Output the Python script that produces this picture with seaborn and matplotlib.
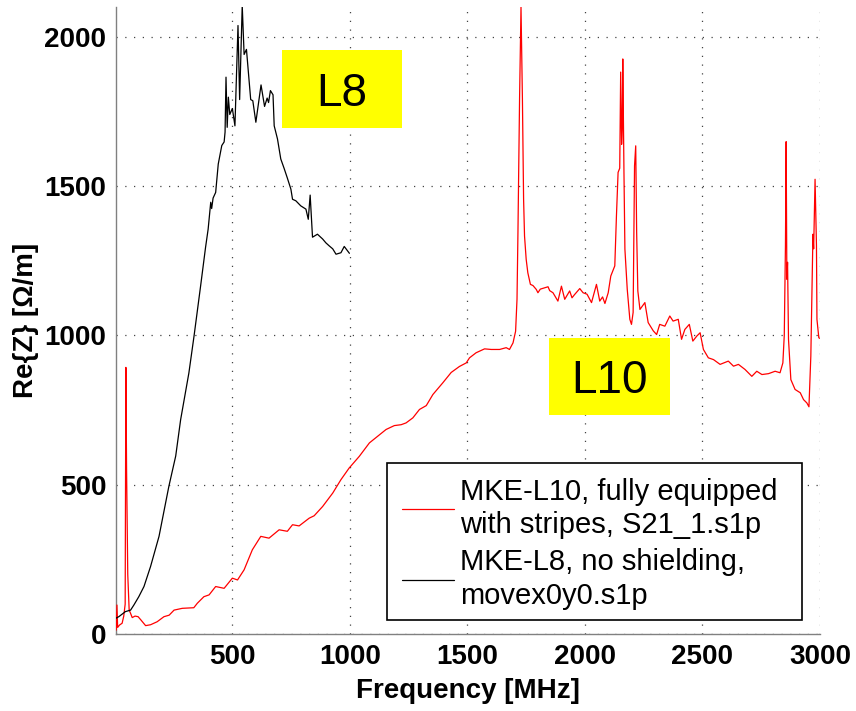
import numpy as np
import pandas as pd
import seaborn as sns
import matplotlib
matplotlib.use("Agg")
import matplotlib.pyplot as plt
from matplotlib.patches import Rectangle
from matplotlib.ticker import MultipleLocator

# MKE-L8, no shielding (movex0y0.s1p)
l8_freq = [5, 17, 45, 67, 81, 102, 124, 152, 188, 230, 259, 280, 315, 337, 365,
           386, 397, 408, 412, 418, 429, 440, 455, 465, 469, 473, 478, 483, 489,
           500, 511, 524, 531, 542, 550, 560, 578, 587, 600, 622, 637, 648, 654,
           662, 673, 678, 692, 706, 720, 734, 749, 756, 770, 791, 813, 823, 831,
           841, 862, 884, 898, 912, 927, 941, 962, 976, 998]
l8_re = [53, 58, 75, 80, 97, 125, 159, 226, 327, 495, 596, 718, 874, 998, 1166,
         1295, 1356, 1446, 1425, 1460, 1479, 1574, 1636, 1648, 1681, 1865, 1697,
         1798, 1740, 1760, 1702, 2038, 1790, 2105, 1941, 1958, 1790, 1786, 1714,
         1839, 1767, 1795, 1780, 1820, 1806, 1702, 1658, 1591, 1560, 1527, 1490,
         1456, 1451, 1434, 1423, 1389, 1470, 1329, 1339, 1323, 1310, 1300, 1290,
         1272, 1277, 1298, 1275]

# MKE-L10, fully equipped with stripes (S21_1.s1p)
l10_freq = [6, 9, 12, 20, 31, 38, 44, 47, 50, 55, 61, 67, 74, 86, 99, 111, 131,
            152, 180, 209, 231, 252, 287, 336, 351, 379, 401, 429, 465, 500, 522,
            550, 585, 621, 656, 699, 734, 756, 784, 827, 848, 884, 927, 962, 997,
            1040, 1083, 1118, 1154, 1189, 1218, 1239, 1268, 1296, 1325, 1353,
            1395, 1431, 1466, 1495, 1509, 1537, 1573, 1601, 1637, 1665, 1679,
            1694, 1705, 1711, 1715, 1722, 1728, 1734, 1739, 1743, 1750, 1757,
            1768, 1779, 1793, 1800, 1810, 1843, 1850, 1864, 1885, 1900, 1914,
            1935, 1945, 1955, 1978, 1992, 2009, 2028, 2049, 2063, 2075, 2085,
            2099, 2110, 2127, 2134, 2141, 2148, 2152, 2156, 2159, 2161, 2166,
            2170, 2180, 2191, 2198, 2205, 2211, 2216, 2220, 2225, 2234, 2255,
            2269, 2291, 2305, 2318, 2340, 2361, 2375, 2397, 2411, 2425, 2444,
            2459, 2476, 2490, 2504, 2525, 2547, 2575, 2610, 2632, 2653, 2681,
            2710, 2731, 2753, 2781, 2809, 2830, 2842, 2848, 2853, 2856, 2859,
            2862, 2866, 2876, 2894, 2916, 2930, 2944, 2953, 2961, 2970, 2973,
            2979, 2985, 2987, 2995, 3000]
l10_re = [13, 97, 22, 30, 36, 60, 100, 893, 550, 200, 80, 69, 55, 60, 58, 47, 28,
          31, 41, 58, 63, 80, 86, 88, 103, 125, 131, 159, 153, 187, 181,
          215, 282, 327, 321, 349, 344, 366, 362, 388, 396, 427, 472, 517, 556,
          595, 640, 662, 685, 698, 701, 707, 724, 752, 765, 802,
          841, 876, 896, 908, 925, 942, 955, 953, 953, 959, 953,
          975, 1014, 1121, 1345, 1800, 2100, 1792, 1456, 1333, 1255, 1210,
          1171, 1167, 1154, 1143, 1155, 1163, 1150, 1143, 1115, 1165, 1121,
          1149, 1126, 1136, 1157, 1143, 1138, 1110, 1171, 1115, 1129, 1107,
          1143, 1199, 1233, 1400, 1546, 1560, 1882, 1640, 1700, 1926, 1546,
          1289, 1154, 1054, 1037, 1077, 1568, 1635, 1345, 1149, 1087, 1110,
          1043, 1015, 1003, 1037, 1031, 1065, 1048, 1054, 987, 1020, 1037,
          981, 998, 1009, 953, 925, 919, 903, 914, 897, 903, 886,
          863, 880, 869, 872, 880, 875, 908, 1000, 1300, 1649, 1188,
          1245, 987, 852, 819, 808, 785, 774, 761, 931, 1339, 1290,
          1523, 1300, 1054, 992, 990]

label_l10 = "MKE-L10, fully equipped\nwith stripes, S21_1.s1p"
label_l8 = "MKE-L8, no shielding,\nmovex0y0.s1p"
x_ticks = [500, 1000, 1500, 2000, 2500, 3000]
y_ticks = [0, 500, 1000, 1500, 2000]

sns.set_style("white")
plt.rcParams["font.family"] = ["Liberation Sans", "DejaVu Sans"]
plt.rcParams["text.color"] = "black"
plt.rcParams["axes.labelcolor"] = "black"
plt.rcParams["xtick.labelcolor"] = "black"
plt.rcParams["ytick.labelcolor"] = "black"

fig = plt.figure(figsize=(8.56, 7.11), dpi=100)
ax = fig.add_axes([116 / 856, 77 / 711, 704 / 856, 627 / 711])

df10 = pd.DataFrame({"f": l10_freq, "re": l10_re})
df8 = pd.DataFrame({"f": l8_freq, "re": l8_re})
sns.lineplot(data=df10, x="f", y="re", ax=ax, color="#ff0000", lw=0.9,
             estimator=None, sort=False, label=label_l10, zorder=3)
sns.lineplot(data=df8, x="f", y="re", ax=ax, color="black", lw=0.9,
             estimator=None, sort=False, label=label_l8, zorder=4)

ax.set_xlim(5, 3000)
ax.set_ylim(0, 2100)
ax.set_xticks(x_ticks)
ax.set_yticks(y_ticks)
ax.xaxis.set_minor_locator(MultipleLocator(50))

# MATLAB-like axes: dotted grid, inward ticks, no top/right box
ax.grid(True, which="major", color="#444444", linestyle=(0, (1, 6)), lw=0.9)
for s in ["top", "right"]:
    ax.spines[s].set_visible(False)
for s in ["left", "bottom"]:
    ax.spines[s].set_color("#808080")
    ax.spines[s].set_linewidth(1.0)
ax.tick_params(axis="both", which="major", direction="in", length=6,
               color="#808080", labelsize=20, labelcolor="black", pad=7)
ax.tick_params(axis="x", which="minor", direction="in", length=2.5,
               color="#808080")
ax.tick_params(axis="y", which="minor", length=0)
for lab in ax.get_xticklabels() + ax.get_yticklabels():
    lab.set_fontweight("bold")

ax.set_xlabel("Frequency [MHz]", fontsize=20, fontweight="bold", labelpad=6,
              color="black")
ax.set_ylabel("Re{Z} [\u03a9/m]", fontsize=20, fontweight="bold", labelpad=4,
              color="black")

# Yellow tags naming the two kickers
for (x0, x1, y0, y1, txt) in [(712, 1223, 1695, 1956, "L8"),
                              (1846, 2361, 735, 993, "L10")]:
    ax.add_patch(Rectangle((x0, y0), x1 - x0, y1 - y0, facecolor="#ffff00",
                           edgecolor="none", zorder=5))
    ax.text((x0 + x1) / 2, (y0 + y1) / 2, txt, fontsize=33, ha="center",
            va="center_baseline", color="black", zorder=6)

# Legend box drawn as a fixed frame, entries placed inside it
ax.add_patch(Rectangle((0.385, 0.0223), 0.589, 0.2504, transform=ax.transAxes,
                       facecolor="white", edgecolor="black", lw=1.2,
                       zorder=9))
leg = ax.legend(loc="upper left", bbox_to_anchor=(0.385, 0.2727),
                borderaxespad=0, fontsize=21, frameon=False,
                handlelength=1.8, handletextpad=0.2, labelspacing=0.32,
                borderpad=0.5)
for t in leg.get_texts():
    t.set_color("black")
    t.set_linespacing(1.25)
leg.set_zorder(10)

fig.savefig("out.png", dpi=100, facecolor="white")
